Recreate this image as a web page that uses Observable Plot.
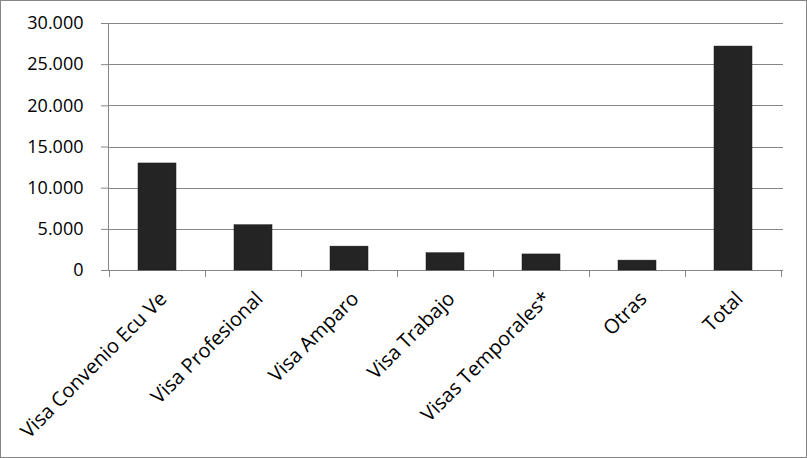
<!DOCTYPE html>
<html>
<head>
<meta charset="utf-8">
<script src="https://cdn.jsdelivr.net/npm/d3@7"></script>
<script src="https://cdn.jsdelivr.net/npm/@observablehq/plot@0.6"></script>
<style>
  html, body { margin: 0; padding: 0; background: #fff; }
  #wrap { position: relative; width: 807px; height: 458px; overflow: hidden; }
  #border { position: absolute; left: 0; top: 0; width: 807px; height: 458px; box-sizing: border-box; border: 1px solid #868686; pointer-events: none; }
</style>
</head>
<body>
<div id="wrap"><div id="chart"></div><div id="border"></div></div>
<script>
const categories = ["Visa Convenio Ecu Ve", "Visa Profesional", "Visa Amparo", "Visa Trabajo", "Visas Temporales*", "Otras", "Total"];
const values = [13000, 5500, 2900, 2100, 1950, 1200, 27200];
const yTicks = [0, 5000, 10000, 15000, 20000, 25000, 30000];

const data = categories.map((c, i) => ({category: c, value: values[i]}));
const fmt = d3.formatLocale({decimal: ",", thousands: ".", grouping: [3], currency: ["", ""]}).format(",d");
const gray = "#868686";
const font = "'Open Sans', sans-serif";

// category boundary tick marks below the baseline
function boundaryTicks(index, scales, values, dimensions) {
  const x = scales.x, y = scales.y;
  const step = x(categories[1]) - x(categories[0]);
  const bw = x.bandwidth ? x.bandwidth() : (scales.scales && scales.scales.x.bandwidth) || 0;
  const y0 = y(0);
  const g = d3.create("svg:g");
  for (let i = 0; i <= categories.length; i++) {
    const xc = (i < categories.length ? x(categories[i]) + bw / 2 - step / 2 : x(categories[i - 1]) + bw / 2 + step / 2);
    g.append("line").attr("x1", xc).attr("x2", xc).attr("y1", y0).attr("y2", y0 + 7)
      .attr("stroke", gray).attr("stroke-width", 1).attr("shape-rendering", "crispEdges");
  }
  return g.node();
}

const chart = Plot.plot({
  width: 807,
  height: 458,
  marginLeft: 108,
  marginRight: 24,
  marginTop: 23,
  marginBottom: 188,
  style: {fontFamily: font, background: "transparent", overflow: "visible"},
  x: {domain: categories, paddingInner: 0.6, paddingOuter: 0.3, axis: null},
  y: {domain: [0, 30000], axis: null},
  marks: [
    Plot.gridY(yTicks, {stroke: gray, strokeOpacity: 1, strokeWidth: 1, shapeRendering: "crispEdges"}),
    Plot.axisY(yTicks, {tickSize: 7, stroke: gray, strokeWidth: 1, tickFormat: fmt, fontSize: 18, fill: "#000", tickPadding: 18, label: null}),
    Plot.frame({anchor: "left", stroke: gray, strokeWidth: 1}),
    boundaryTicks,
    Plot.barY(data, {x: "category", y: "value", fill: "#242424", stroke: "#1a1a1a", strokeWidth: 0.5}),
    Plot.text(categories, {x: d => d, y: 0, dx: 6, dy: 25, rotate: -45, textAnchor: "end", fontSize: 20, fill: "#000"})
  ]
});
document.getElementById("chart").append(chart);
</script>
</body>
</html>
